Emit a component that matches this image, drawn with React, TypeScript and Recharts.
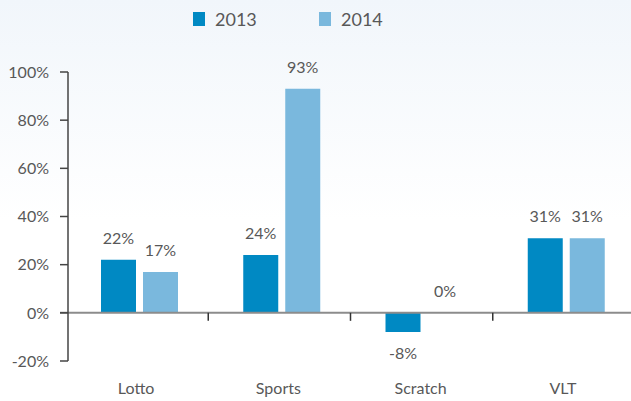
import { BarChart, Bar, XAxis, YAxis, ReferenceLine, Legend, LabelList } from 'recharts'

const categories = ['Lotto', 'Sports', 'Scratch', 'VLT']
const values2013 = [22, 24, -8, 31]
const values2014 = [17, 93, 0, 31]
const yTicks = [-20, 0, 20, 40, 60, 80, 100]

const data = categories.map((name, i) => ({
  name,
  y2013: values2013[i],
  y2014: values2014[i],
}))

const FONT = 'Lato, "Open Sans", sans-serif'
const TEXT = '#585858'
const DARK = '#0089c3'
const LIGHT = '#7ab8dd'

function ZeroLine(props: any) {
  const { x1, y1, x2 } = props
  const band = (x2 - x1) / categories.length
  return (
    <g>
      <line x1={x1 - 8} y1={y1} x2={x2} y2={y1} stroke="#8c8c8c" strokeWidth={2} />
      {categories.slice(1).map((c, i) => (
        <line key={c} x1={x1 + band * (i + 1) - 2} y1={y1} x2={x1 + band * (i + 1) - 2} y2={y1 + 8} stroke="#333" strokeWidth={1.5} />
      ))}
    </g>
  )
}

function LegendContent({ payload }: any) {
  return (
    <div style={{ display: 'flex', height: 23 }}>
      {(payload || []).map((p: any) => (
        <div key={p.value} style={{ display: 'flex', alignItems: 'center', width: 126 }}>
          <span style={{ display: 'inline-block', width: 12, height: 14, background: p.color, marginRight: 10 }} />
          <span style={{ fontFamily: FONT, fontSize: 18, color: TEXT }}>{p.value}</span>
        </div>
      ))}
    </div>
  )
}

export default function App() {
  return (
    <div
      style={{
        position: 'absolute',
        left: 0,
        top: 0,
        width: 631,
        height: 401,
        overflow: 'hidden',
        background: 'linear-gradient(#f1f6fb 0%, #ffffff 55%)',
      }}
    >
      <BarChart
        width={645}
        height={401}
        data={data}
        margin={{ top: 49, right: 8, left: 0, bottom: 10 }}
        barSize={35}
        barGap={7}
      >
        <XAxis
          dataKey="name"
          axisLine={false}
          tickLine={false}
          tickSize={0}
          tickMargin={22}
          height={30}
          tick={{ fontFamily: FONT, fontSize: 16, fill: TEXT, dx: -3 }}
        />
        <YAxis
          domain={[-20, 100]}
          ticks={yTicks}
          width={68}
          tickFormatter={(v) => `${v}%`}
          axisLine={{ stroke: '#444', strokeWidth: 1.5 }}
          tickLine={{ stroke: '#444', strokeWidth: 1.5 }}
          tickSize={8}
          tickMargin={11}
          tick={{ fontFamily: FONT, fontSize: 16, fill: TEXT }}
        />
        <Legend
          verticalAlign="top"
          align="left"
          content={<LegendContent />}
          wrapperStyle={{ top: 7, left: 193, width: 300 }}
        />
        <Bar dataKey="y2013" name="2013" fill={DARK} isAnimationActive={false}>
          <LabelList dataKey="y2013" position="top" offset={16} formatter={(v: any) => `${v}%`} style={{ fontFamily: FONT, fontSize: 16, fill: TEXT }} />
        </Bar>
        <Bar dataKey="y2014" name="2014" fill={LIGHT} minPointSize={0.01} isAnimationActive={false}>
          <LabelList dataKey="y2014" position="top" offset={16} formatter={(v: any) => `${v}%`} style={{ fontFamily: FONT, fontSize: 16, fill: TEXT }} />
        </Bar>
        <ReferenceLine y={0} shape={<ZeroLine />} />
      </BarChart>
    </div>
  )
}
